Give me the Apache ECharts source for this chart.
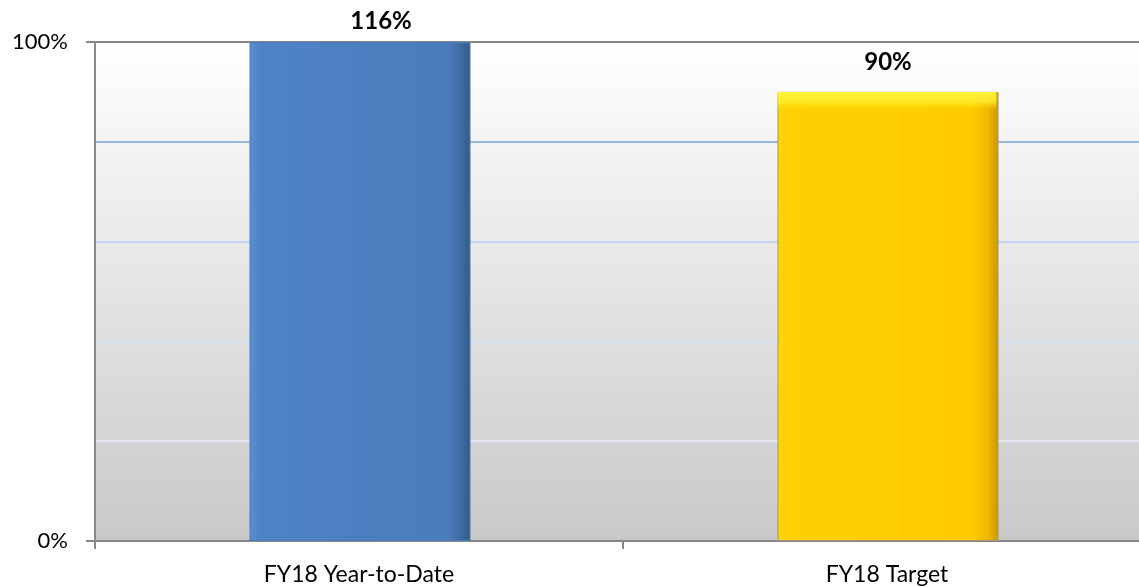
<!DOCTYPE html>
<html>
<head>
<meta charset="utf-8">
<script src="https://cdn.jsdelivr.net/npm/echarts@6/dist/echarts.min.js"></script>
<style>
html,body{margin:0;padding:0;background:#fff;}
#chart{width:1139px;height:587px;}
</style>
</head>
<body>
<div id="chart"></div>
<script>
var categories = ['FY18 Year-to-Date', 'FY18 Target'];
var values = [116, 90];
var yMin = 0, yMax = 100;
var yLabels = ['0%', '100%'];

function hasFont(name) {
  var c = document.createElement('canvas').getContext('2d');
  var s = '116% abcWgil';
  c.font = '40px monospace';
  var w1 = c.measureText(s).width;
  c.font = '40px "' + name + '", monospace';
  return c.measureText(s).width !== w1;
}
var narrow = hasFont('Liberation Sans Narrow');
var valueFont = narrow
  ? {fontFamily: '"Liberation Sans Narrow"', fontSize: 28, fontWeight: 'normal'}
  : {fontFamily: 'Lato', fontSize: 24, fontWeight: 'bold'};

var barColors = [
  new echarts.graphic.LinearGradient(0, 0, 1, 0, [
    {offset: 0, color: '#5a8fd2'},
    {offset: 0.05, color: '#4e83c6'},
    {offset: 0.9, color: '#4a7cbc'},
    {offset: 0.96, color: '#3e6a9e'},
    {offset: 1, color: '#345a88'}
  ]),
  new echarts.graphic.LinearGradient(0, 0, 1, 0, [
    {offset: 0, color: '#ffd60a'},
    {offset: 0.05, color: '#ffcf05'},
    {offset: 0.88, color: '#fecb00'},
    {offset: 0.95, color: '#f0b800'},
    {offset: 1, color: '#c89a00'}
  ])
];
var borderColors = ['#4a7cbc', '#a8946a'];
var topShine = [
  'rgba(0,0,0,0)',
  new echarts.graphic.LinearGradient(0, 0, 0, 1, [
    {offset: 0, color: 'rgba(255,245,60,0.95)'},
    {offset: 0.022, color: 'rgba(255,240,50,0.8)'},
    {offset: 0.04, color: 'rgba(255,230,0,0)'},
    {offset: 1, color: 'rgba(255,230,0,0)'}
  ])
];

var chart = echarts.init(document.getElementById('chart'), null, {renderer: 'canvas'});
var option = {
  animation: false,
  grid: {
    left: 95, top: 42, bottom: 46, width: 1056,
    outerBoundsMode: 'none',
    containLabel: false,
    show: true,
    borderWidth: 0,
    backgroundColor: new echarts.graphic.LinearGradient(0, 0, 0, 1, [
      {offset: 0, color: '#ffffff'},
      {offset: 1, color: '#c9c9c9'}
    ])
  },
  xAxis: {
    type: 'category',
    data: categories,
    axisLine: {lineStyle: {color: '#868686', width: 2}},
    axisTick: {show: true, length: 8, lineStyle: {color: '#868686', width: 2}},
    axisLabel: {color: '#000', fontSize: 23, fontFamily: 'Lato', margin: 22}
  },
  yAxis: [
    {
      type: 'value', min: yMin, max: yMax, interval: 100,
      axisLine: {show: true, lineStyle: {color: '#8a8a8a', width: 2}},
      axisTick: {show: true, length: 9, lineStyle: {color: '#868686', width: 2}},
      axisLabel: {
        color: '#000', fontSize: 22, fontFamily: 'Lato', margin: 27,
        formatter: function (v) { return v === yMin ? yLabels[0] : (v === yMax ? yLabels[1] : ''); }
      },
      splitLine: {show: true, lineStyle: {color: '#868686', width: 2}}
    },
    {
      type: 'value', min: yMin, max: yMax, interval: 20, position: 'left',
      axisLine: {show: false}, axisTick: {show: false}, axisLabel: {show: false},
      splitLine: {show: true, lineStyle: {width: 2, color: ['rgba(0,0,0,0)', '#e3eaf6', '#d4e0f2', '#c0d3f0', '#9db8e4', 'rgba(0,0,0,0)']}}
    }
  ],
  series: [{
    type: 'bar',
    yAxisIndex: 0,
    barWidth: 221,
    z: 3,
    data: values.map(function (v, i) {
      return {
        value: Math.min(v, yMax),
        itemStyle: {color: barColors[i], borderColor: borderColors[i], borderWidth: 1},
        label: v > yMax ? {offset: [21, 0], distance: 9} : {distance: 18}
      };
    }),
    label: {
      show: true, position: 'top',
      color: '#000', fontSize: valueFont.fontSize, fontWeight: valueFont.fontWeight, fontFamily: valueFont.fontFamily,
      formatter: function (p) { return values[p.dataIndex] + '%'; }
    }
  }, {
    type: 'bar',
    yAxisIndex: 0,
    barWidth: 219,
    barGap: '-100%',
    z: 4,
    silent: true,
    data: values.map(function (v, i) {
      return {value: Math.min(v, yMax), itemStyle: {color: topShine[i]}};
    }),
    label: {show: false}
  }]
};
chart.setOption(option);
</script>
</body>
</html>
